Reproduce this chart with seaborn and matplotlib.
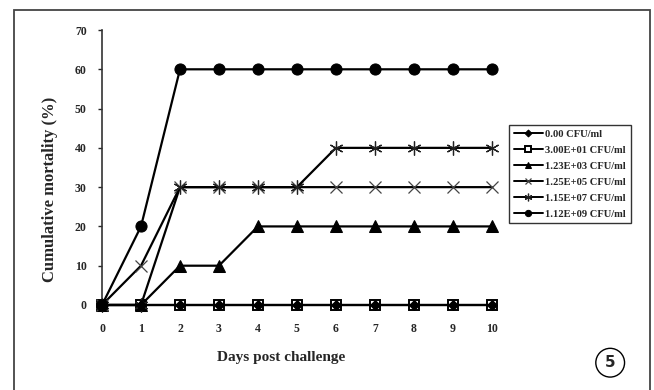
import pandas as pd
import seaborn as sns
import matplotlib.pyplot as plt
from matplotlib.patches import Rectangle

# --- DATA ---
days = [0, 1, 2, 3, 4, 5, 6, 7, 8, 9, 10]
dose_labels = ["0.00 CFU/ml", "3.00E+01 CFU/ml", "1.23E+03 CFU/ml",
               "1.25E+05 CFU/ml", "1.15E+07 CFU/ml", "1.12E+09 CFU/ml"]
mort_0 = [0, 0, 0, 0, 0, 0, 0, 0, 0, 0, 0]
mort_3e1 = [0, 0, 0, 0, 0, 0, 0, 0, 0, 0, 0]
mort_1e3 = [0, 0, 10, 10, 20, 20, 20, 20, 20, 20, 20]
mort_1e5 = [0, 10, 30, 30, 30, 30, 30, 30, 30, 30, 30]
mort_1e7 = [0, 0, 30, 30, 30, 30, 40, 40, 40, 40, 40]
mort_1e9 = [0, 20, 60, 60, 60, 60, 60, 60, 60, 60, 60]
series = [mort_0, mort_3e1, mort_1e3, mort_1e5, mort_1e7, mort_1e9]
y_ticks = [0, 10, 20, 30, 40, 50, 60, 70]

# marker style per series
styles = [
    dict(marker="D", markersize=5, markerfacecolor="black", markeredgecolor="black", zorder=4),
    dict(marker="s", markersize=7, markerfacecolor="white", markeredgecolor="black",
         markeredgewidth=1.4, zorder=3),
    dict(marker="^", markersize=8, markerfacecolor="black", markeredgecolor="black", zorder=3),
    dict(marker="x", markersize=9, markeredgecolor="#444444", markeredgewidth=0.9, zorder=3),
    dict(marker=(6, 2, 0), markersize=10, markeredgecolor="#222222", markeredgewidth=0.9, zorder=3),
    dict(marker="o", markersize=8, markerfacecolor="black", markeredgecolor="black", zorder=3),
]
legend_marker_sizes = [3.5, 4, 4.5, 5, 5.5, 4.5]

sns.set_style("white")
plt.rcParams["font.family"] = ["Liberation Serif", "DejaVu Serif"]

fig = plt.figure(figsize=(6.54, 3.90), dpi=100)
ax = fig.add_axes([0.156, 0.218, 0.596, 0.705])

for label, vals, st in zip(dose_labels, series, styles):
    df = pd.DataFrame({"day": days, "mortality": vals})
    sns.lineplot(data=df, x="day", y="mortality", ax=ax, color="black",
                 linewidth=1.6, label=label, clip_on=False, **st)

ax.set_xlim(0, 10)
ax.set_ylim(0, 70)
ax.set_xticks(days)
ax.set_yticks(y_ticks)
ax.tick_params(axis="x", length=0, pad=13, labelsize=8.5)
ax.tick_params(axis="y", length=3, width=1, pad=8, labelsize=8.5, left=True, direction="out")
for t in ax.get_xticklabels() + ax.get_yticklabels():
    t.set_fontweight("bold")
for s in ["top", "right"]:
    ax.spines[s].set_visible(False)
for s in ["left", "bottom"]:
    ax.spines[s].set_color("#333333")
    ax.spines[s].set_linewidth(1.2)

ax.set_xlabel("Days post challenge", fontsize=11, fontweight="bold")
ax.set_ylabel("Cumulative mortality (%)", fontsize=12, fontweight="bold")
ax.xaxis.set_label_coords(0.46, -0.167)
ax.yaxis.set_label_coords(-0.113, 0.42)

leg = ax.legend(loc="upper left", bbox_to_anchor=(0.778, 0.68), bbox_transform=fig.transFigure,
                borderaxespad=0, frameon=True, fancybox=False, handlelength=2.8,
                handletextpad=0.2, labelspacing=0.62, borderpad=0.45,
                prop={"family": "Liberation Serif", "weight": "bold", "size": 7.6})
leg.get_frame().set_edgecolor("black")
leg.get_frame().set_linewidth(1.0)
for h, ms in zip(leg.legend_handles, legend_marker_sizes):
    h.set_markersize(ms)
    h.set_linewidth(1.4)

# outer frame and panel number
fig.patches.append(Rectangle((14 / 654, -0.05), 636 / 654, 1.05 - 10 / 390,
                             transform=fig.transFigure, fill=False,
                             edgecolor="#444444", linewidth=1.3))
fig.text(0.933, 0.07, "5", ha="center", va="center", fontsize=11, fontweight="bold",
         family="DejaVu Sans",
         bbox=dict(boxstyle="circle,pad=0.45", fc="white", ec="black", lw=1))

fig.savefig("out.png", dpi=100)
